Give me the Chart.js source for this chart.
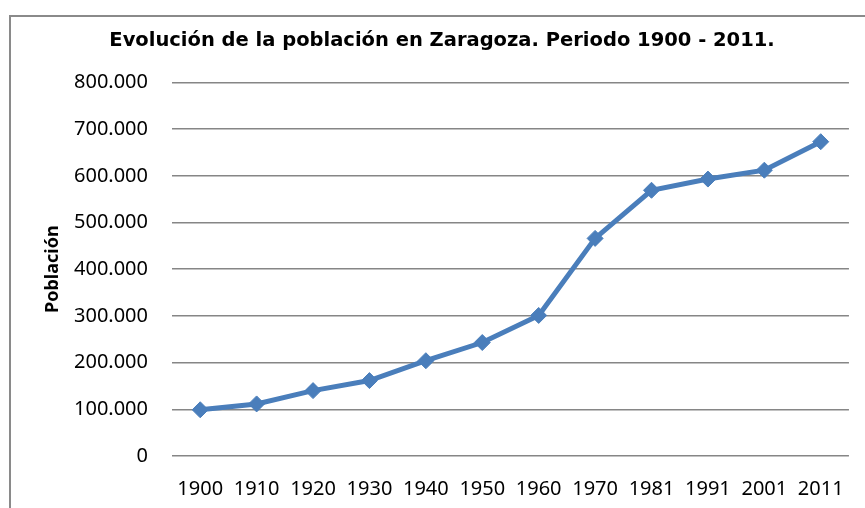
<!DOCTYPE html>
<html>
<head>
<meta charset="utf-8">
<script src="https://cdn.jsdelivr.net/npm/chart.js@4"></script>
<style>
  body { margin: 0; background: #fff; overflow: hidden; }
  /* chart frame, only left and top edges fall inside the window */
  .frame { position: absolute; left: 9px; top: 15px; width: 900px; height: 600px; border: 2px solid #8a8a8a; }
  #myChart { position: absolute; left: 0; top: 0; }
</style>
</head>
<body>
<div class="frame"></div>
<canvas id="myChart" width="865" height="508"></canvas>
<script>
// census years
const years = ["1900", "1910", "1920", "1930", "1940", "1950", "1960", "1970", "1981", "1991", "2001", "2011"];
// inhabitants of Zaragoza
const population = [99000, 111500, 140000, 161500, 204000, 243000, 301000, 466000, 569000, 593000, 612000, 673000];
// y axis ticks
const yTicks = [0, 100000, 200000, 300000, 400000, 500000, 600000, 700000, 800000];

// 800000 -> "800.000"
function miles(v) {
  return String(v).replace(/\B(?=(\d{3})+(?!\d))/g, ".");
}

window.addEventListener("load", setup);

function setup() {
  const ctx = document.getElementById("myChart").getContext("2d");
  const blue = "#4a7ebb";
  new Chart(ctx, {
    type: "line",
    data: {
      labels: years,
      datasets: [
        {
          label: "Población",
          data: population,
          borderColor: blue,
          backgroundColor: blue,
          borderWidth: 5,
          fill: false,
          tension: 0,
          pointStyle: "rectRot",
          pointRadius: 8,
          pointBorderWidth: 1,
          pointBackgroundColor: blue,
          pointBorderColor: blue,
        },
      ],
    },
    options: {
      responsive: false,
      animation: false,
      layout: { padding: { left: 26, right: 7, top: 0, bottom: 5 } },
      plugins: {
        legend: { display: false },
        tooltip: { enabled: false },
        title: {
          display: true,
          text: "Evolución de la población en Zaragoza. Periodo 1900 - 2011.",
          color: "#000",
          font: { family: "DejaVu Sans", size: 19.5, weight: "bold" },
          padding: { top: 29, bottom: 30 },
        },
      },
      scales: {
        x: {
          offset: true,
          grid: { display: false, drawTicks: false },
          border: { display: false },
          ticks: {
            color: "#000",
            font: { family: "Noto Sans", size: 20 },
            padding: 21,
            maxRotation: 0,
            autoSkip: false,
          },
          afterFit: (scale) => { scale.height = 47; },
        },
        y: {
          min: 0,
          max: 800000,
          afterBuildTicks: (scale) => { scale.ticks = yTicks.map((v) => ({ value: v })); },
          grid: { color: "#868686", lineWidth: 1.5, drawTicks: false },
          border: { display: false },
          ticks: {
            color: "#000",
            font: { family: "Noto Sans", size: 20 },
            padding: 24,
            callback: (v) => miles(v),
          },
          title: {
            display: true,
            text: "Población",
            color: "#000",
            font: { family: "Noto Sans", size: 18, weight: "bold" },
            padding: { top: 16, bottom: 0 },
          },
          afterFit: (scale) => { scale.width = 146; },
        },
      },
    },
  });
}
</script>
</body>
</html>
